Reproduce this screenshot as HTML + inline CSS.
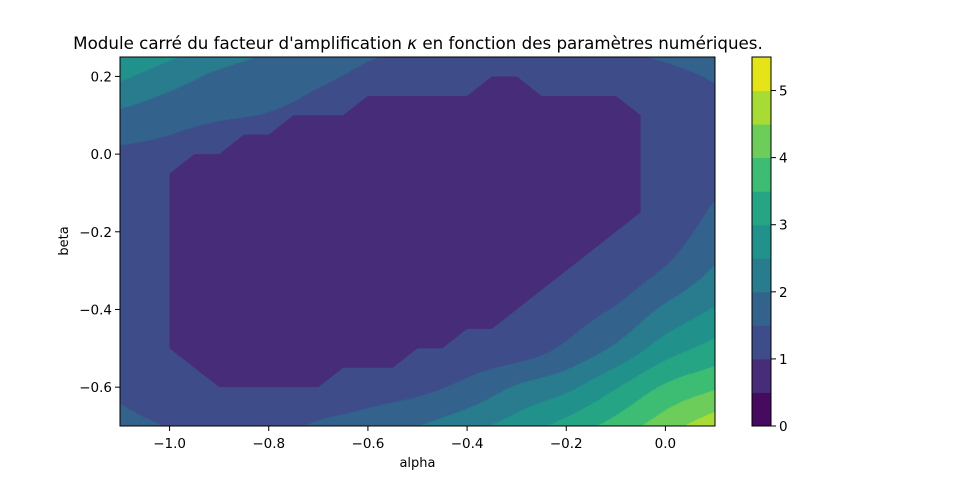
<!DOCTYPE html>
<html>
<head>
<meta charset="utf-8">
<style>
  html,body{margin:0;padding:0;background:#fff;}
  #wrap{position:relative;width:960px;height:479px;overflow:hidden;background:#fff;}
  #field{position:absolute;left:0;top:0;}
  #axes{position:absolute;left:0;top:0;}
  text{font-family:"DejaVu Sans","Liberation Sans",sans-serif;fill:#000;}
</style>
</head>
<body>
<div id="wrap">
<canvas id="field" width="960" height="479"></canvas>
<svg id="axes" width="960" height="479" xmlns="http://www.w3.org/2000/svg">
  <g id="inner"></g>
  <g id="frame"></g>
  <g id="xticks"></g>
  <g id="yticks"></g>
  <g id="cbar"></g>
  <text x="418" y="49" text-anchor="middle" font-size="16.7">Module carré du facteur d'amplification <tspan font-style="italic">κ</tspan> en fonction des paramètres numériques.</text>
  <text x="417.5" y="467" text-anchor="middle" font-size="13">alpha</text>
  <text x="0" y="0" text-anchor="middle" font-size="13" transform="translate(68,241) rotate(-90)">beta</text>
</svg>
</div>
<script>
// ---- data ----
const alphaNodes = [-1.1,-1.0,-0.9,-0.8,-0.7,-0.6,-0.5,-0.4,-0.3,-0.2,-0.1,0.0,0.1];
const betaNodes = [0.3,0.2,0.1,0.0,-0.1,-0.2,-0.3,-0.4,-0.5,-0.6,-0.7];
const kappaRow_p03 = [3.3,2.95,2.55,2.15,1.95,1.65,1.55,1.45,1.4,1.36,1.52,1.7,1.83];
const kappaRow_p02 = [2.6,2.23,1.9,1.75,1.58,1.42,1.35,1.3,1.25,1.22,1.32,1.4,1.54];
const kappaRow_p01 = [1.9,1.7,1.56,1.48,1.36,1.25,1.2,1.17,1.14,1.12,1.17,1.18,1.38];
const kappaRow_00 = [1.42,1.35,1.18,1.2,1.18,1.15,1.12,1.1,1.08,1.07,1.1,1.12,1.36];
const kappaRow_m01 = [1.25,1.15,1.1,1.1,1.1,1.1,1.08,1.06,1.05,1.05,1.08,1.15,1.47];
const kappaRow_m02 = [1.17,1.08,1.05,1.05,1.05,1.06,1.06,1.05,1.04,1.06,1.1,1.27,1.70];
const kappaRow_m03 = [1.15,1.05,1.04,1.03,1.03,1.05,1.06,1.06,1.05,1.12,1.2,1.55,2.06];
const kappaRow_m04 = [1.18,1.07,1.05,1.04,1.04,1.08,1.1,1.1,1.1,1.29,1.55,2.1,2.55];
const kappaRow_m05 = [1.27,1.12,1.08,1.07,1.1,1.15,1.2,1.2,1.25,1.59,2.09,2.75,3.18];
const kappaRow_m06 = [1.42,1.25,1.15,1.15,1.22,1.3,1.38,1.63,2.05,2.38,2.96,3.58,3.94];
const kappaRow_m07 = [1.62,1.48,1.3,1.38,1.55,1.7,1.99,2.33,2.73,3.18,3.7,4.28,4.84];
const kappaRows = [kappaRow_p03,kappaRow_p02,kappaRow_p01,kappaRow_00,kappaRow_m01,kappaRow_m02,kappaRow_m03,kappaRow_m04,kappaRow_m05,kappaRow_m06,kappaRow_m07];
// region where |kappa|^2 < 1 (level 0.5-1), vertices in data coords
const innerAlpha = [-1.0,-0.95,-0.9,-0.85,-0.8,-0.75,-0.65,-0.6,-0.4,-0.35,-0.3,-0.25,-0.1,-0.05,-0.05,-0.35,-0.4,-0.45,-0.5,-0.55,-0.65,-0.7,-0.9,-1.0];
const innerBeta  = [-0.05,0.0,0.0,0.05,0.05,0.1,0.1,0.15,0.15,0.2,0.2,0.15,0.15,0.1,-0.15,-0.45,-0.45,-0.5,-0.5,-0.55,-0.55,-0.6,-0.6,-0.5];
const innerLevel = 0.75;
const levels = [0,0.5,1,1.5,2,2.5,3,3.5,4,4.5,5,5.5];
const levelColors = ["#460b5e","#472c7a","#3e4c8a","#33628d","#297b8e","#21918c","#25a584","#3dbc74","#6ccd5a","#a8db34","#e5e419"];
const xTickValues = [-1.0,-0.8,-0.6,-0.4,-0.2,0.0];
const xTickLabels = ["\u22121.0","\u22120.8","\u22120.6","\u22120.4","\u22120.2","0.0"];
const yTickValues = [0.2,0.0,-0.2,-0.4,-0.6];
const yTickLabels = ["0.2","0.0","\u22120.2","\u22120.4","\u22120.6"];
const cbarTickValues = [0,1,2,3,4,5];
const cbarTickLabels = ["0","1","2","3","4","5"];

// ---- layout / scales ----
const PL=120, PR=715, PT=57, PB=426;
const XMIN=-1.1, XMAX=0.1, YMIN=-0.7, YMAX=0.25;
function xScale(a){return PL+(a-XMIN)/(XMAX-XMIN)*(PR-PL);}
function yScale(b){return PT+(YMAX-b)/(YMAX-YMIN)*(PB-PT);}
function xInv(px){return XMIN+(px-PL)/(PR-PL)*(XMAX-XMIN);}
function yInv(py){return YMAX-(py-PT)/(PB-PT)*(YMAX-YMIN);}
const CL=752, CR=771, CT=57, CB=426, CMAX=5.5;
function cScale(v){return CB-(v/CMAX)*(CB-CT);}
function bandIndex(v){
  for(let i=levels.length-2;i>=0;i--){ if(v>=levels[i]) return i; }
  return 0;
}
function cr(p0,p1,p2,p3,t){
  return 0.5*((2*p1)+(-p0+p2)*t+(2*p0-5*p1+4*p2-p3)*t*t+(-p0+3*p1-3*p2+p3)*t*t*t);
}
function node(i,j){
  const na=alphaNodes.length, nb=betaNodes.length;
  const ii=Math.max(0,Math.min(na-1,i)), jj=Math.max(0,Math.min(nb-1,j));
  let v=kappaRows[jj][ii];
  // linear extrapolation at borders
  if(i<0) v=2*kappaRows[jj][0]-kappaRows[jj][1];
  if(i>na-1) v=2*kappaRows[jj][na-1]-kappaRows[jj][na-2];
  if(j<0) v=2*kappaRows[0][ii]-kappaRows[1][ii];
  if(j>nb-1) v=2*kappaRows[nb-1][ii]-kappaRows[nb-2][ii];
  return v;
}
function sample(a,b){
  const na=alphaNodes.length, nb=betaNodes.length;
  let fi=(a-alphaNodes[0])/(alphaNodes[na-1]-alphaNodes[0])*(na-1);
  let fj=(betaNodes[0]-b)/(betaNodes[0]-betaNodes[nb-1])*(nb-1);
  fi=Math.max(0,Math.min(na-1.0001,fi)); fj=Math.max(0,Math.min(nb-1.0001,fj));
  const i=Math.floor(fi), j=Math.floor(fj), u=fi-i, v=fj-j;
  const col=[];
  for(let dj=-1;dj<=2;dj++){
    col.push(cr(node(i-1,j+dj),node(i,j+dj),node(i+1,j+dj),node(i+2,j+dj),u));
  }
  return cr(col[0],col[1],col[2],col[3],v);
}
function hex(c){return [parseInt(c.slice(1,3),16),parseInt(c.slice(3,5),16),parseInt(c.slice(5,7),16)];}

// ---- contour field ----
const cv=document.getElementById('field');
const ctx=cv.getContext('2d');
const W=PR-PL, H=PB-PT;
const img=ctx.createImageData(W,H);
const rgb=levelColors.map(hex);
for(let y=0;y<H;y++){
  const b=yInv(PT+y+0.5);
  for(let x=0;x<W;x++){
    const a=xInv(PL+x+0.5);
    let s=sample(a,b); if(s<1.01) s=1.01;
    const c=rgb[bandIndex(s)];
    const k=(y*W+x)*4;
    img.data[k]=c[0];img.data[k+1]=c[1];img.data[k+2]=c[2];img.data[k+3]=255;
  }
}
ctx.putImageData(img,PL,PT);

const NS="http://www.w3.org/2000/svg";
function mk(tag,attrs,parent){const e=document.createElementNS(NS,tag);for(const k in attrs)e.setAttribute(k,attrs[k]);parent.appendChild(e);return e;}

// inner region
const gi=document.getElementById('inner');
const pts=innerAlpha.map((a,i)=>xScale(a).toFixed(2)+","+yScale(innerBeta[i]).toFixed(2)).join(" ");
const poly=mk('polygon',{points:pts,fill:levelColors[bandIndex(innerLevel)],stroke:'none'},gi);



// frame
const gf=document.getElementById('frame');
const fr=mk('rect',{x:PL,y:PT,width:PR-PL,height:PB-PT,fill:'none',stroke:'#000','stroke-width':1},gf);



// x ticks
const gx=document.getElementById('xticks');
xTickValues.forEach((v,i)=>{
  const x=xScale(v);
  const t=mk('line',{x1:x,y1:PB,x2:x,y2:PB+5,stroke:'#000','stroke-width':1},gx);
  
  
  const l=mk('text',{x:x,y:PB+22,'text-anchor':'middle','font-size':13.5},gx);
  l.textContent=xTickLabels[i];
  
  
});
// y ticks
const gy=document.getElementById('yticks');
yTickValues.forEach((v,i)=>{
  const y=yScale(v);
  const t=mk('line',{x1:PL-5,y1:y,x2:PL,y2:y,stroke:'#000','stroke-width':1},gy);
  
  
  const l=mk('text',{x:PL-8,y:y+5,'text-anchor':'end','font-size':13.5},gy);
  l.textContent=yTickLabels[i];
  
  
});
// colorbar
const gc=document.getElementById('cbar');
for(let i=0;i<levels.length-1;i++){
  const y0=cScale(levels[i+1]), y1=cScale(levels[i]);
  const r=mk('rect',{x:CL,y:y0,width:CR-CL,height:y1-y0+0.5,fill:levelColors[i]},gc);
  
  
}
const cb=mk('rect',{x:CL,y:CT,width:CR-CL,height:CB-CT,fill:'none',stroke:'#000','stroke-width':1},gc);


cbarTickValues.forEach((v,i)=>{
  const y=cScale(v);
  const t=mk('line',{x1:CR,y1:y,x2:CR+5,y2:y,stroke:'#000','stroke-width':1},gc);
  
  
  const l=mk('text',{x:CR+8,y:y+5,'text-anchor':'start','font-size':13.5},gc);
  l.textContent=cbarTickLabels[i];
  
  
});
</script>
</body>
</html>
